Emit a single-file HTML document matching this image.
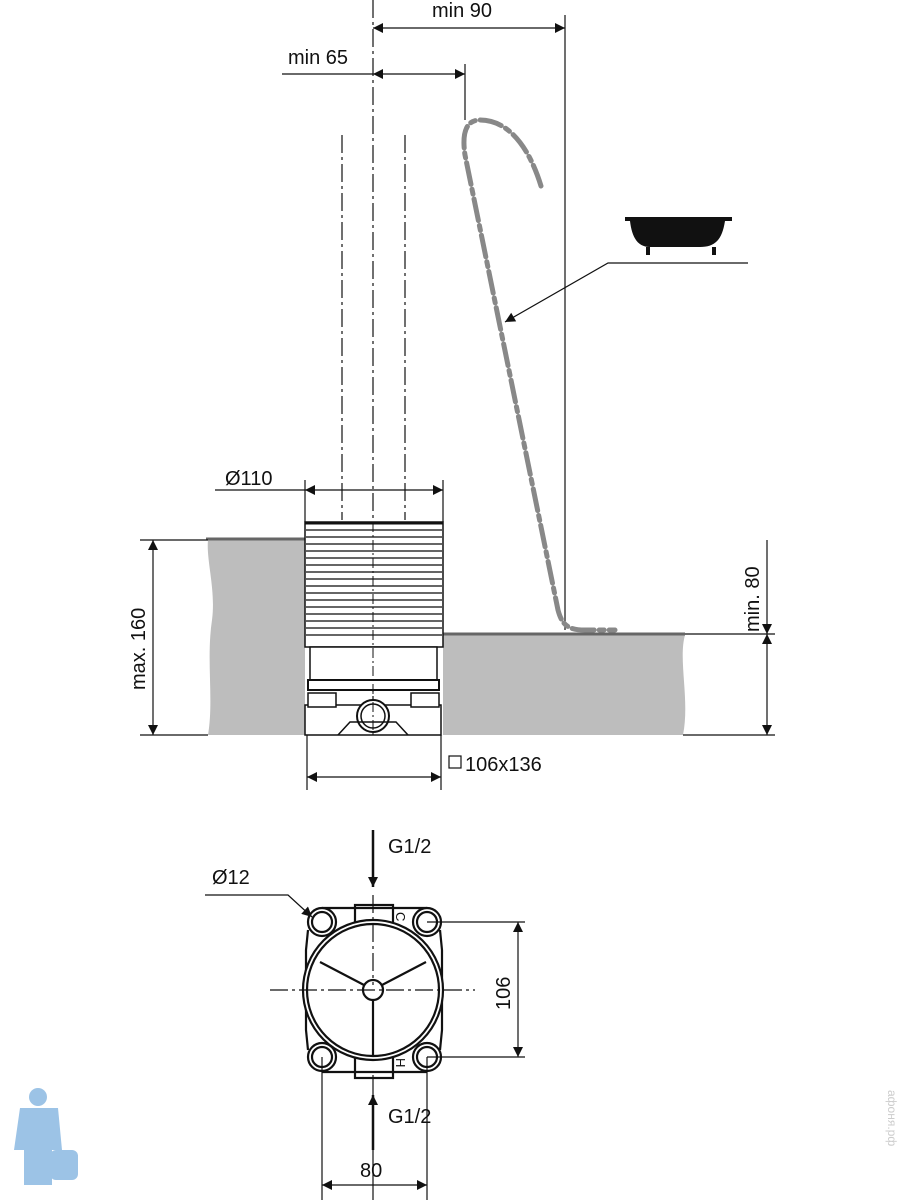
<!DOCTYPE html>
<html><head><meta charset="utf-8"><style>body{margin:0;background:#fff}svg{display:block}text{font-family:"Liberation Sans",sans-serif;fill:#111}</style></head><body>
<svg width="900" height="1200" viewBox="0 0 900 1200" xmlns="http://www.w3.org/2000/svg">
<defs>
<marker id="a" viewBox="0 0 10 10" refX="10" refY="5" markerWidth="14" markerHeight="10" markerUnits="userSpaceOnUse" orient="auto-start-reverse"><path d="M0,0L10,5L0,10z" fill="#111"/></marker>
</defs>
<g stroke="#111" fill="none" stroke-width="1.2">
<line x1="373" y1="0" x2="373" y2="735" stroke-dasharray="18,4,3,4"/>
<line x1="342" y1="135" x2="342" y2="520" stroke-dasharray="18,4,3,4"/>
<line x1="405" y1="135" x2="405" y2="520" stroke-dasharray="18,4,3,4"/>
<line x1="565" y1="15" x2="565" y2="630"/>
<line x1="373" y1="28" x2="565" y2="28" marker-start="url(#a)" marker-end="url(#a)"/>
<line x1="465" y1="64" x2="465" y2="120"/>
<line x1="282" y1="74" x2="373" y2="74"/>
<line x1="373" y1="74" x2="465" y2="74" marker-start="url(#a)" marker-end="url(#a)"/>
<line x1="215" y1="490" x2="305" y2="490"/>
<line x1="305" y1="490" x2="443" y2="490" marker-start="url(#a)" marker-end="url(#a)"/>
<line x1="305" y1="480" x2="305" y2="522"/><line x1="443" y1="480" x2="443" y2="522"/>
</g>
<path d="M541,186 C530,150 510,120 480,120 C465,120 462,135 465,155 L558,610 C562,625 568,630 585,630 L615,630" fill="none" stroke="#888" stroke-width="5" stroke-dasharray="22,5,5,5" stroke-linecap="round"/>
<path d="M625,217 L732,217 L732,221 L725,221 C722,240 715,247 700,247 L650,247 C638,247 632,238 630,221 L625,221z" fill="#111"/>
<rect x="646" y="247" width="4" height="8" fill="#111"/><rect x="712" y="247" width="4" height="8" fill="#111"/>
<g stroke="#111" fill="none" stroke-width="1.2">
<polyline points="748,263 608,263 505,322" marker-end="url(#a)"/>
</g>
<path d="M208,540 L305,540 L305,735 L208,735 C214,700 206,660 212,620 C216,590 206,560 208,540z" fill="#bdbdbd"/>
<path d="M443,635 L685,635 C678,660 690,700 683,735 L443,735z" fill="#bdbdbd"/>
<line x1="206" y1="539" x2="305" y2="539" stroke="#666" stroke-width="3"/>
<line x1="443" y1="634" x2="685" y2="634" stroke="#666" stroke-width="3"/>
<g stroke="#111" stroke-width="1.5" fill="#fff">
<rect x="305" y="522" width="138" height="125"/>
<path d="M310,647 L437,647 L437,680 L310,680z"/>
<rect x="308" y="680" width="131" height="10" stroke-width="2"/>
<path d="M305,705 L441,705 L441,735 L305,735z"/>
<rect x="308" y="693" width="28" height="14"/><rect x="411" y="693" width="28" height="14"/>
<circle cx="373" cy="716" r="16" stroke-width="2"/><circle cx="373" cy="716" r="12"/>
<path d="M338,735 L350,722 L396,722 L408,735" fill="none"/>
</g>
<line x1="305" y1="523" x2="443" y2="523" stroke="#111" stroke-width="3"/>
<g stroke="#666" stroke-width="2">
<line x1="306" y1="530" x2="442" y2="530"/><line x1="306" y1="537" x2="442" y2="537"/><line x1="306" y1="544" x2="442" y2="544"/><line x1="306" y1="551" x2="442" y2="551"/><line x1="306" y1="558" x2="442" y2="558"/><line x1="306" y1="565" x2="442" y2="565"/><line x1="306" y1="572" x2="442" y2="572"/><line x1="306" y1="579" x2="442" y2="579"/><line x1="306" y1="586" x2="442" y2="586"/><line x1="306" y1="593" x2="442" y2="593"/><line x1="306" y1="600" x2="442" y2="600"/><line x1="306" y1="607" x2="442" y2="607"/><line x1="306" y1="614" x2="442" y2="614"/><line x1="306" y1="621" x2="442" y2="621"/><line x1="306" y1="628" x2="442" y2="628"/><line x1="306" y1="635" x2="442" y2="635"/>
</g>
<line x1="373" y1="522" x2="373" y2="735" stroke="#111" stroke-width="1" stroke-dasharray="10,3,2,3"/>
<g stroke="#111" fill="none" stroke-width="1.2">
<line x1="140" y1="540" x2="208" y2="540"/><line x1="140" y1="735" x2="208" y2="735"/>
<line x1="153" y1="540" x2="153" y2="735" marker-start="url(#a)" marker-end="url(#a)"/>
<line x1="685" y1="634" x2="775" y2="634"/><line x1="683" y1="735" x2="775" y2="735"/>
<line x1="767" y1="540" x2="767" y2="634" marker-end="url(#a)"/>
<line x1="767" y1="634" x2="767" y2="735" marker-start="url(#a)" marker-end="url(#a)"/>
<line x1="307" y1="735" x2="307" y2="790"/><line x1="441" y1="735" x2="441" y2="790"/>
<line x1="307" y1="777" x2="441" y2="777" marker-start="url(#a)" marker-end="url(#a)"/>
</g>
<rect x="449" y="756" width="12" height="12" fill="none" stroke="#111" stroke-width="1.2"/>
<!-- plan view -->
<g stroke="#111" fill="#fff" stroke-width="2.2">
<rect x="355" y="905" width="38" height="30"/><rect x="355" y="1045" width="38" height="33"/>
<line x1="322" y1="908" x2="427" y2="908"/><line x1="322" y1="1072" x2="427" y2="1072"/>
<path d="M308,930 L306,950 L306,1030 L308,1050" fill="none"/><path d="M440,930 L442,950 L442,1030 L440,1050" fill="none"/>
<circle cx="322" cy="922" r="14"/><circle cx="322" cy="922" r="10"/>
<circle cx="427" cy="922" r="14"/><circle cx="427" cy="922" r="10"/>
<circle cx="322" cy="1057" r="14"/><circle cx="322" cy="1057" r="10"/>
<circle cx="427" cy="1057" r="14"/><circle cx="427" cy="1057" r="10"/>
<circle cx="373" cy="990" r="70"/><circle cx="373" cy="990" r="66"/>
<line x1="320" y1="962" x2="364" y2="985"/><line x1="426" y1="962" x2="382" y2="985"/><line x1="373" y1="1000" x2="373" y2="1056"/>
<circle cx="373" cy="990" r="10"/>
</g>
<g stroke="#111" fill="none" stroke-width="1.2">
<line x1="270" y1="990" x2="475" y2="990" stroke-dasharray="18,4,3,4"/>
<line x1="373" y1="895" x2="373" y2="985" stroke-dasharray="18,4,3,4"/>
<line x1="373" y1="1075" x2="373" y2="1200"/>
<line x1="373" y1="830" x2="373" y2="887" stroke-width="2.5" marker-end="url(#a)"/>
<line x1="373" y1="1150" x2="373" y2="1095" stroke-width="2.5" marker-end="url(#a)"/>
<polyline points="205,895 288,895 312,917" marker-end="url(#a)"/>
<line x1="427" y1="922" x2="525" y2="922"/><line x1="427" y1="1057" x2="525" y2="1057"/>
<line x1="518" y1="922" x2="518" y2="1057" marker-start="url(#a)" marker-end="url(#a)"/>
<line x1="322" y1="1057" x2="322" y2="1200"/><line x1="427" y1="1057" x2="427" y2="1200"/>
<line x1="322" y1="1185" x2="427" y2="1185" marker-start="url(#a)" marker-end="url(#a)"/>
</g>
<text x="396" y="912" font-size="13" transform="rotate(90 396 912)">C</text>
<text x="396" y="1058" font-size="13" transform="rotate(90 396 1058)">H</text>
<g font-size="20">
<text x="432" y="17">min 90</text>
<text x="288" y="64">min 65</text>
<text x="225" y="485">Ø110</text>
<text x="465" y="771">106x136</text>
<text x="388" y="853">G1/2</text>
<text x="388" y="1123">G1/2</text>
<text x="212" y="884">Ø12</text>
<text x="360" y="1177">80</text>
<text transform="translate(145 690) rotate(-90)">max. 160</text>
<text transform="translate(759 632) rotate(-90)">min. 80</text>
<text transform="translate(510 1010) rotate(-90)">106</text>
</g>
<text transform="translate(888 1090) rotate(90)" font-size="12" style="fill:#ccc">афоня.рф</text>
<g fill="#9cc3e6"><circle cx="38" cy="1097" r="9"/><path d="M20,1108 L58,1108 L62,1150 L52,1150 L52,1185 L24,1185 L24,1150 L14,1150z"/><rect x="50" y="1150" width="28" height="30" rx="6"/></g>
</svg>
</body></html>
